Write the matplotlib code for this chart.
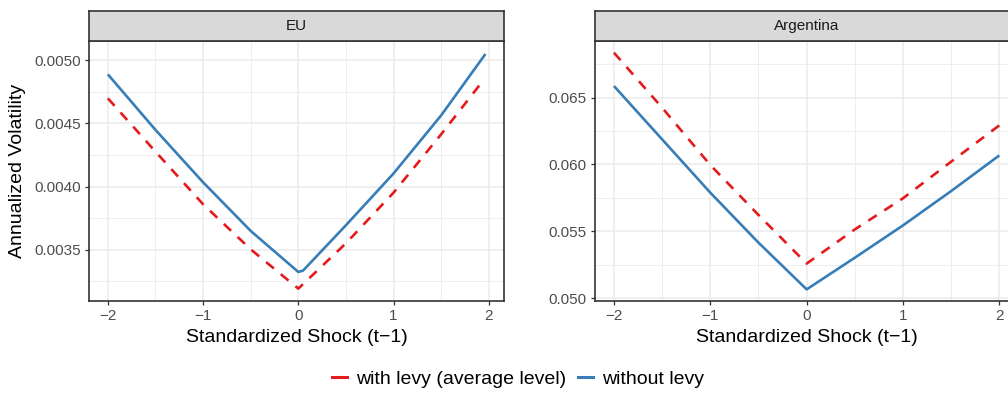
import matplotlib
matplotlib.use("Agg")
import matplotlib.pyplot as plt
from matplotlib.lines import Line2D
from matplotlib.ticker import MultipleLocator, FixedLocator

plt.rcParams['font.family'] = ['Liberation Sans', 'DejaVu Sans']

# ---------------- data ----------------
panels = ["EU", "Argentina"]
series_labels = ["with levy (average level)", "without levy"]

eu_x_with = [-2.0, -1.5, -1.0, -0.5, 0.0, 0.5, 1.0, 1.5, 1.915]
eu_with = [0.004699, 0.004277, 0.003860, 0.003503, 0.003192, 0.003551, 0.003952, 0.004414, 0.004815]
eu_x_without = [-2.0, -1.5, -1.0, -0.5, 0.0, 0.05, 0.5, 1.0, 1.5, 1.965]
eu_without = [0.004889, 0.004449, 0.004034, 0.003649, 0.003324, 0.003335, 0.003694, 0.004104, 0.004564, 0.005050]

ar_x_with = [-2.0, -1.5, -1.0, -0.5, 0.0, 0.5, 1.0, 1.5, 2.0]
ar_with = [0.06837, 0.06425, 0.05996, 0.05622, 0.05258, 0.05514, 0.05747, 0.06021, 0.06293]
ar_x_without = [-2.0, -1.5, -1.0, -0.5, 0.0, 0.5, 1.0, 1.5, 2.0]
ar_without = [0.065873, 0.06188, 0.05789, 0.05415, 0.05065, 0.05302, 0.05544, 0.05801, 0.06068]

eu_yticks = [0.0035, 0.0040, 0.0045, 0.0050]
ar_yticks = [0.050, 0.055, 0.060, 0.065]
xticks = [-2, -1, 0, 1, 2]

# ---------------- style ----------------
RED = "#E41A1C"
BLUE = "#377EB8"
GRID = "#EBEBEB"
BORDER = "#333333"
TICKTXT = "#4D4D4D"

W, H = 1008, 398
fig = plt.figure(figsize=(W / 100, H / 100), dpi=100)

def fx(px):
    return px / W

def fy(py):
    return 1 - py / H

panel_top, panel_bot = 41, 301
strip_top = 11

specs = [
    dict(name=panels[0], left=89.3, right=504.0, xlim=(-2.195, 2.16), ylim=(0.003094, 0.005153),
         yticks=eu_yticks, yminor=0.00025, fmt="{:.4f}",
         xw=eu_x_with, yw=eu_with, xo=eu_x_without, yo=eu_without),
    dict(name=panels[1], left=594.7, right=1018.6, xlim=(-2.2, 2.2), ylim=(0.04978, 0.069244),
         yticks=ar_yticks, yminor=0.0025, fmt="{:.3f}",
         xw=ar_x_with, yw=ar_with, xo=ar_x_without, yo=ar_without),
]

def minus(s):
    return s.replace("-", "\u2212")

for sp in specs:
    ax = fig.add_axes([fx(sp["left"]), fy(panel_bot), fx(sp["right"] - sp["left"]),
                       (panel_bot - panel_top) / H])
    ax.set_xlim(*sp["xlim"])
    ax.set_ylim(*sp["ylim"])
    ax.set_facecolor("white")
    ax.xaxis.set_major_locator(FixedLocator(xticks))
    ax.xaxis.set_minor_locator(MultipleLocator(0.5))
    ax.yaxis.set_major_locator(FixedLocator(sp["yticks"]))
    ax.yaxis.set_minor_locator(MultipleLocator(sp["yminor"]))
    ax.set_xticklabels([minus(str(t)) for t in xticks])
    ax.set_yticklabels([sp["fmt"].format(t) for t in sp["yticks"]])
    ax.grid(which="major", color=GRID, linewidth=1.1, zorder=0)
    ax.grid(which="minor", color=GRID, linewidth=0.6, zorder=0)
    ax.set_axisbelow(True)
    ax.tick_params(which="major", length=3.2, width=0.9, color=BORDER, labelsize=11,
                   labelcolor=TICKTXT, pad=2.5)
    ax.tick_params(which="minor", length=0)
    for s in ax.spines.values():
        s.set_color(BORDER)
        s.set_linewidth(1.2)
    ax.plot(sp["xo"], sp["yo"], color=BLUE, lw=1.9, solid_capstyle="butt", zorder=3)
    ax.plot(sp["xw"], sp["yw"], color=RED, lw=1.9, linestyle=(0, (3.8, 3.4)),
            dash_capstyle="butt", zorder=3)

    # strip
    sax = fig.add_axes([fx(sp["left"]), fy(panel_top), fx(sp["right"] - sp["left"]),
                        (panel_top - strip_top) / H])
    sax.set_facecolor("#D9D9D9")
    sax.set_xticks([])
    sax.set_yticks([])
    for s in sax.spines.values():
        s.set_color(BORDER)
        s.set_linewidth(1.2)
    sax.text(0.5 if sp["name"] == "EU" else (806.6 - sp["left"]) / (sp["right"] - sp["left"]),
             0.5, sp["name"], transform=sax.transAxes, ha="center", va="center",
             fontsize=11, color="#1A1A1A")

    # x axis title
    cx = fx((sp["left"] + sp["right"]) / 2)
    fig.text(cx, fy(338), "Standardized Shock (t\u22121)", ha="center", va="center",
             fontsize=14, color="black")

fig.text(fx(17.5), fy(171), "Annualized Volatility", rotation=90, ha="center", va="center",
         fontsize=14, color="black")

handles = [Line2D([], [], color=RED, lw=2.2), Line2D([], [], color=BLUE, lw=2.2)]
fig.legend(handles, series_labels, loc="center", bbox_to_anchor=(fx(518), fy(379)), ncol=2,
           frameon=False, fontsize=14, handlelength=0.8, handletextpad=0.45,
           columnspacing=0.6, borderpad=0, borderaxespad=0)

fig.savefig("out.png", dpi=100)
